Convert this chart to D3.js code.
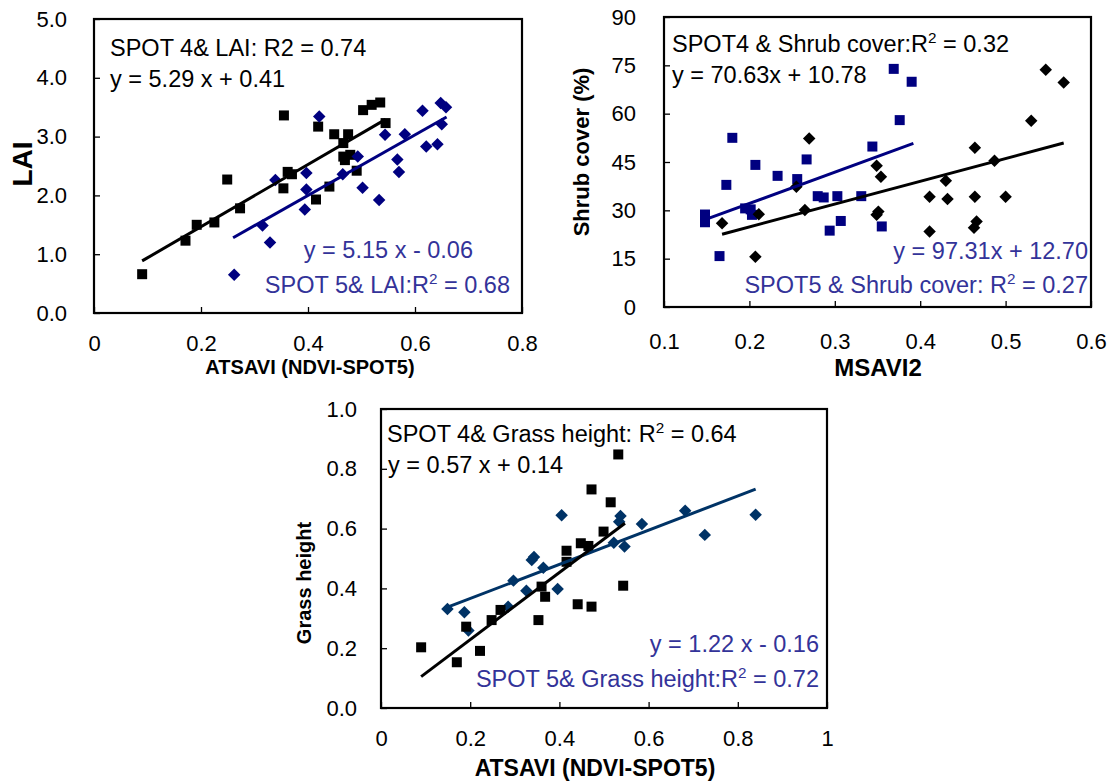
<!DOCTYPE html>
<html lang="en">
<head>
<meta charset="UTF-8">
<title>SPOT indices vs vegetation</title>
<script src="https://cdn.jsdelivr.net/npm/d3@7"></script>
<style>
  body { margin: 0; background: #fff; }
  svg text { font-family: "Liberation Sans", Arial, sans-serif; }
</style>
</head>
<body>
<div id="chart"></div>
<script>
// ---- LAI panel (ATSAVI vs LAI) ----
var laiSpot4 = [[0.09,0.66],[0.171,1.23],[0.192,1.50],[0.225,1.54],[0.249,2.27],[0.273,1.78],
  [0.354,2.12],[0.362,2.40],[0.370,2.36],[0.355,3.36],[0.419,3.17],[0.415,1.93],[0.440,2.15],
  [0.449,3.04],[0.475,3.04],[0.466,2.89],[0.466,2.66],[0.479,2.69],[0.469,2.60],[0.491,2.42],
  [0.503,3.45],[0.519,3.54],[0.535,3.58],[0.545,3.23]];
var laiSpot5 = [[0.262,0.65],[0.315,1.49],[0.329,1.20],[0.339,2.26],[0.397,2.38],[0.397,2.10],
  [0.394,1.76],[0.421,3.34],[0.465,2.36],[0.493,2.66],[0.502,2.13],[0.533,1.92],[0.544,3.03],
  [0.581,3.04],[0.567,2.61],[0.570,2.40],[0.614,3.44],[0.621,2.83],[0.642,2.87],[0.648,3.57],
  [0.658,3.50],[0.650,3.21]];
var laiFit4 = [[0.09,0.886],[0.545,3.293]];
var laiFit5 = [[0.26,1.279],[0.659,3.334]];
var laiXTicks = [0,0.2,0.4,0.6,0.8], laiXLabels = ["0","0.2","0.4","0.6","0.8"];
var laiYTicks = [0,1,2,3,4,5], laiYLabels = ["0.0","1.0","2.0","3.0","4.0","5.0"];

// ---- Shrub cover panel (MSAVI2 vs shrub cover) ----
var shrubSpot4 = [[0.168,26.0],[0.211,28.8],[0.207,15.6],[0.255,37.3],[0.265,30.1],[0.270,52.3],
  [0.349,43.8],[0.354,40.4],[0.351,29.6],[0.349,28.6],[0.411,34.2],[0.411,23.4],[0.430,39.2],
  [0.432,33.5],[0.464,49.4],[0.464,34.2],[0.466,26.5],[0.463,24.6],[0.487,45.4],[0.500,34.2],
  [0.530,57.8],[0.547,73.6],[0.568,69.7]];
var shrubSpot5 = [[0.148,28.7],[0.148,26.3],[0.165,15.8],[0.173,37.9],[0.180,52.5],[0.195,30.6],
  [0.2015,30.3],[0.203,28.6],[0.207,44.1],[0.233,40.7],[0.256,39.7],[0.267,45.8],[0.280,34.4],
  [0.287,34.0],[0.294,23.7],[0.303,34.4],[0.307,26.7],[0.331,34.4],[0.344,49.8],[0.355,25.0],
  [0.369,73.9],[0.390,69.9],[0.376,58.0]];
var shrubFit4 = [[0.168,22.6],[0.568,50.9]];
var shrubFit5 = [[0.148,27.1],[0.392,50.8]];
var shrubXTicks = [0.1,0.2,0.3,0.4,0.5,0.6], shrubXLabels = ["0.1","0.2","0.3","0.4","0.5","0.6"];
var shrubYTicks = [0,15,30,45,60,75,90], shrubYLabels = ["0","15","30","45","60","75","90"];

// ---- Grass height panel (ATSAVI vs grass height) ----
var grassSpot4 = [[0.090,0.203],[0.170,0.153],[0.222,0.191],[0.191,0.272],[0.248,0.294],
  [0.268,0.328],[0.353,0.294],[0.360,0.406],[0.368,0.372],[0.416,0.526],[0.416,0.489],
  [0.441,0.347],[0.472,0.339],[0.448,0.551],[0.465,0.542],[0.472,0.731],[0.499,0.590],
  [0.532,0.848],[0.515,0.688],[0.543,0.409]];
var grassSpot5 = [[0.149,0.331],[0.187,0.320],[0.196,0.259],[0.285,0.339],[0.297,0.426],
  [0.326,0.392],[0.338,0.495],[0.343,0.505],[0.364,0.469],[0.396,0.398],[0.405,0.645],
  [0.537,0.642],[0.534,0.623],[0.522,0.553],[0.546,0.540],[0.585,0.615],[0.682,0.660],
  [0.726,0.579],[0.840,0.646]];
var grassFit4 = [[0.090,0.105],[0.547,0.618]];
var grassFit5 = [[0.142,0.333],[0.840,0.732]];
var grassXTicks = [0,0.2,0.4,0.6,0.8,1], grassXLabels = ["0","0.2","0.4","0.6","0.8","1"];
var grassYTicks = [0,0.2,0.4,0.6,0.8,1], grassYLabels = ["0.0","0.2","0.4","0.6","0.8","1.0"];

var BLACK = "#000000", NAVY = "#000080", STEEL = "#003366", TXTBLUE = "#333399";

var svg = d3.select("#chart").append("svg")
  .attr("width", 1111).attr("height", 782);

// text with optional superscript parts: [["text"],["2","sup"],["rest"]]
function addText(g, x, y, parts, anchor, color, size) {
  var t = g.append("text").attr("x", x).attr("y", y)
    .attr("text-anchor", anchor).attr("fill", color).attr("font-size", size);
  var up = false;
  parts.forEach(function(p) {
    var s = t.append("tspan").text(p[0]);
    if (p[1] == "sup") {
      s.attr("font-size", size * 0.65).attr("dy", -size * 0.4);
      up = true;
    } else if (up) {
      s.attr("dy", size * 0.4);
      up = false;
    }
  });
  return t;
}

function drawPanel(p) {
  var g = svg.append("g");
  var x = d3.scaleLinear().domain(p.xDomain).range([p.left, p.right]);
  var y = d3.scaleLinear().domain(p.yDomain).range([p.bottom, p.top]);

  var xAxis = d3.axisBottom(x).tickValues(p.xTicks)
    .tickFormat(function(d, i) { return p.xLabels[i]; })
    .tickSizeInner(-6).tickSizeOuter(0).tickPadding(p.xPad);
  var yAxis = d3.axisLeft(y).tickValues(p.yTicks)
    .tickFormat(function(d, i) { return p.yLabels[i]; })
    .tickSizeInner(-6).tickSizeOuter(0).tickPadding(p.yPad);

  g.append("g").attr("transform", "translate(0," + p.bottom + ")").call(xAxis)
    .call(function(a) { a.select(".domain").remove(); });
  g.append("g").attr("transform", "translate(" + p.left + ",0)").call(yAxis)
    .call(function(a) { a.select(".domain").remove(); });
  g.selectAll(".tick line").attr("stroke", "#000").attr("stroke-width", 1.3);
  g.selectAll(".tick text").attr("font-size", 22).attr("fill", "#000")
    .style("font-family", "'Liberation Sans', Arial, sans-serif");

  g.append("rect").attr("x", p.left).attr("y", p.top)
    .attr("width", p.right - p.left).attr("height", p.bottom - p.top)
    .attr("fill", "none").attr("stroke", "#000").attr("stroke-width", 2.2);

  var line = d3.line().x(function(d) { return x(d[0]); }).y(function(d) { return y(d[1]); });

  p.series.forEach(function(s) {
    var sel = g.append("g").selectAll("path").data(s.data).enter().append("path")
      .attr("fill", s.color);
    if (s.shape == "square") {
      sel.attr("d", d3.symbol(d3.symbolSquare, 100)())
        .attr("transform", function(d) { return "translate(" + x(d[0]) + "," + y(d[1]) + ")"; });
    } else {
      sel.attr("d", d3.symbol(d3.symbolSquare, 78)())
        .attr("transform", function(d) { return "translate(" + x(d[0]) + "," + y(d[1]) + ") rotate(45)"; });
    }
  });
  p.fits.forEach(function(f) {
    g.append("path").datum(f.data).attr("d", line)
      .attr("fill", "none").attr("stroke", f.color).attr("stroke-width", 3);
  });

  p.notes.forEach(function(n) {
    addText(g, n.x, n.y, n.parts, n.anchor, n.color, 23.5);
  });

  g.append("text").attr("x", p.xTitle[0]).attr("y", p.xTitle[1])
    .attr("text-anchor", "middle").attr("font-weight", "bold")
    .attr("font-size", p.xTitle[2]).text(p.xTitle[3]);
  g.append("text").attr("transform", "translate(" + p.yTitle[0] + "," + p.yTitle[1] + ") rotate(-90)")
    .attr("text-anchor", "middle").attr("font-weight", "bold")
    .attr("font-size", p.yTitle[2]).text(p.yTitle[3]);
}

drawPanel({
  left: 94, right: 522, top: 19, bottom: 313,
  xDomain: [0, 0.8], yDomain: [0, 5],
  xTicks: laiXTicks, xLabels: laiXLabels, yTicks: laiYTicks, yLabels: laiYLabels,
  xPad: 22, yPad: 27,
  series: [
    { data: laiSpot4, color: BLACK, shape: "square" },
    { data: laiSpot5, color: NAVY, shape: "diamond" }
  ],
  fits: [{ data: laiFit4, color: BLACK }, { data: laiFit5, color: NAVY }],
  notes: [
    { x: 110, y: 56, anchor: "start", color: BLACK, parts: [["SPOT 4& LAI: R2 = 0.74"]] },
    { x: 110, y: 87, anchor: "start", color: BLACK, parts: [["y = 5.29 x + 0.41"]] },
    { x: 473, y: 258, anchor: "end", color: TXTBLUE, parts: [["y = 5.15 x - 0.06"]] },
    { x: 510, y: 293, anchor: "end", color: TXTBLUE, parts: [["SPOT 5& LAI:R"], ["2", "sup"], [" = 0.68"]] }
  ],
  xTitle: [310, 374, 20, "ATSAVI (NDVI-SPOT5)"],
  yTitle: [32, 164, 28, "LAI"]
});

drawPanel({
  left: 664, right: 1091, top: 17, bottom: 307,
  xDomain: [0.1, 0.6], yDomain: [0, 90],
  xTicks: shrubXTicks, xLabels: shrubXLabels, yTicks: shrubYTicks, yLabels: shrubYLabels,
  xPad: 26, yPad: 28,
  series: [
    { data: shrubSpot5, color: NAVY, shape: "square" },
    { data: shrubSpot4, color: BLACK, shape: "diamond" }
  ],
  fits: [{ data: shrubFit4, color: BLACK }, { data: shrubFit5, color: NAVY }],
  notes: [
    { x: 672, y: 52, anchor: "start", color: BLACK, parts: [["SPOT4 & Shrub cover:R"], ["2", "sup"], [" = 0.32"]] },
    { x: 672, y: 83, anchor: "start", color: BLACK, parts: [["y = 70.63x + 10.78"]] },
    { x: 1088, y: 259, anchor: "end", color: TXTBLUE, parts: [["y = 97.31x + 12.70"]] },
    { x: 1088, y: 293, anchor: "end", color: TXTBLUE, parts: [["SPOT5 & Shrub cover: R"], ["2", "sup"], [" = 0.27"]] }
  ],
  xTitle: [878, 376, 24, "MSAVI2"],
  yTitle: [589, 152, 22, "Shrub cover (%)"]
});

drawPanel({
  left: 381, right: 827, top: 409, bottom: 708,
  xDomain: [0, 1], yDomain: [0, 1],
  xTicks: grassXTicks, xLabels: grassXLabels, yTicks: grassYTicks, yLabels: grassYLabels,
  xPad: 22, yPad: 24,
  series: [
    { data: grassSpot5, color: STEEL, shape: "diamond" },
    { data: grassSpot4, color: BLACK, shape: "square" }
  ],
  fits: [{ data: grassFit5, color: STEEL }, { data: grassFit4, color: BLACK }],
  notes: [
    { x: 387, y: 442, anchor: "start", color: BLACK, parts: [["SPOT 4& Grass height: R"], ["2", "sup"], [" = 0.64"]] },
    { x: 388, y: 473, anchor: "start", color: BLACK, parts: [["y = 0.57 x + 0.14"]] },
    { x: 819, y: 652, anchor: "end", color: TXTBLUE, parts: [["y = 1.22 x - 0.16"]] },
    { x: 819, y: 687, anchor: "end", color: TXTBLUE, parts: [["SPOT 5& Grass height:R"], ["2", "sup"], [" = 0.72"]] }
  ],
  xTitle: [595, 776, 23, "ATSAVI (NDVI-SPOT5)"],
  yTitle: [311, 583, 20, "Grass height"]
});
</script>
</body>
</html>
